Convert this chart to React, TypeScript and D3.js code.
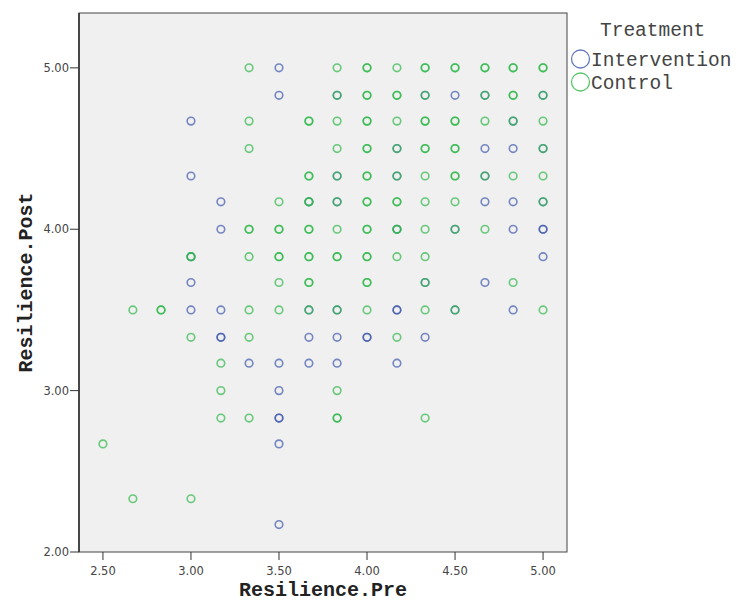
import React, { useEffect, useRef } from 'react';
import * as d3 from 'd3';

// [Resilience.Pre, Resilience.Post] per respondent, repeats are stacked respondents
const interventionPoints: [number, number][] = [
  [3.5, 5], [3.5, 4.83], [3, 4.67], [3, 4.33], [3.17, 4.17], [3.17, 4], [3.67, 4.17],
  [3.83, 4.83], [4.33, 4.83], [4.5, 4.83], [4.67, 4.83], [5, 4.83],
  [4.83, 4.67],
  [4.17, 4.5], [4.67, 4.5], [4.83, 4.5], [5, 4.5],
  [3.83, 4.33], [4.17, 4.33], [4.67, 4.33],
  [3.83, 4.17], [4.67, 4.17], [4.83, 4.17], [5, 4.17],
  [4.17, 4], [4.5, 4], [4.83, 4], [5, 4], [5, 4],
  [3, 3.83], [5, 3.83],
  [3, 3.67], [4.33, 3.67], [4.67, 3.67],
  [3, 3.5], [3.17, 3.5], [3.67, 3.5], [3.83, 3.5], [4.17, 3.5], [4.17, 3.5], [4.5, 3.5], [4.83, 3.5],
  [3.17, 3.33], [3.17, 3.33], [3.67, 3.33], [3.83, 3.33], [4, 3.33], [4, 3.33], [4.33, 3.33],
  [3.33, 3.17], [3.5, 3.17], [3.67, 3.17], [3.83, 3.17], [4.17, 3.17],
  [3.5, 3],
  [3.5, 2.83], [3.5, 2.83],
  [3.5, 2.67], [3.5, 2.17],
];

const controlPoints: [number, number][] = [
  [3.33, 5], [3.83, 5], [4, 5], [4, 5], [4.17, 5], [4.33, 5], [4.33, 5], [4.5, 5], [4.5, 5],
  [4.67, 5], [4.67, 5], [4.83, 5], [4.83, 5], [5, 5], [5, 5],
  [3.83, 4.83], [4, 4.83], [4, 4.83], [4.17, 4.83], [4.17, 4.83], [4.33, 4.83], [4.67, 4.83],
  [4.83, 4.83], [4.83, 4.83], [5, 4.83],
  [3.33, 4.67], [3.67, 4.67], [3.67, 4.67], [3.83, 4.67], [4, 4.67], [4, 4.67], [4.17, 4.67],
  [4.33, 4.67], [4.33, 4.67], [4.5, 4.67], [4.5, 4.67], [4.67, 4.67], [4.83, 4.67], [5, 4.67],
  [3.33, 4.5], [3.83, 4.5], [4, 4.5], [4, 4.5], [4.17, 4.5], [4.33, 4.5], [4.33, 4.5],
  [4.5, 4.5], [4.5, 4.5], [5, 4.5],
  [3.67, 4.33], [3.67, 4.33], [3.83, 4.33], [4, 4.33], [4, 4.33], [4.17, 4.33], [4.33, 4.33],
  [4.5, 4.33], [4.5, 4.33], [4.67, 4.33], [4.83, 4.33], [5, 4.33],
  [3.5, 4.17], [3.67, 4.17], [3.67, 4.17], [3.83, 4.17], [4, 4.17], [4, 4.17], [4.17, 4.17],
  [4.17, 4.17], [4.33, 4.17], [4.5, 4.17], [5, 4.17],
  [3.33, 4], [3.33, 4], [3.5, 4], [3.5, 4], [3.67, 4], [3.67, 4], [3.83, 4], [4, 4], [4, 4],
  [4.17, 4], [4.17, 4], [4.33, 4], [4.5, 4], [4.67, 4],
  [3, 3.83], [3, 3.83], [3.33, 3.83], [3.5, 3.83], [3.5, 3.83], [3.67, 3.83], [3.67, 3.83],
  [3.83, 3.83], [3.83, 3.83], [4, 3.83], [4, 3.83], [4.17, 3.83], [4.33, 3.83],
  [3.5, 3.67], [3.67, 3.67], [3.67, 3.67], [4, 3.67], [4, 3.67], [4.33, 3.67], [4.83, 3.67],
  [2.67, 3.5], [2.83, 3.5], [2.83, 3.5], [3.33, 3.5], [3.5, 3.5], [3.67, 3.5], [3.83, 3.5],
  [4, 3.5], [4.33, 3.5], [4.5, 3.5], [5, 3.5],
  [3, 3.33], [3.33, 3.33], [4.17, 3.33],
  [3.17, 3.17],
  [3.17, 3], [3.83, 3],
  [3.17, 2.83], [3.33, 2.83], [3.83, 2.83], [3.83, 2.83], [4.33, 2.83],
  [2.5, 2.67],
  [2.67, 2.33], [3, 2.33],
];

const xTicks = [2.5, 3, 3.5, 4, 4.5, 5];
const yTicks = [2, 3, 4, 5];
const groups = ['Intervention', 'Control'];

const ScatterChart = () => {
  const svgRef = useRef<SVGSVGElement | null>(null);

  useEffect(() => {
    const svg = d3.select(svgRef.current);
    svg.selectAll('*').remove();

    const left = 79, right = 567, top = 13, bottom = 552;
    const colors = ['#3e58ac', '#2eb848'];
    const mono = '"Liberation Mono", "Courier New", monospace';

    const x = d3.scaleLinear().domain([2.364, 5.136]).range([left, right]);
    const y = d3.scaleLinear().domain([2, 5.34]).range([bottom, top]);

    // plot background
    svg.append('rect')
      .attr('x', left).attr('y', top)
      .attr('width', right - left).attr('height', bottom - top)
      .attr('fill', '#f0f0f0')
      .attr('stroke', '#444')
      .attr('stroke-width', 1);

    svg.append('line')
      .attr('x1', left).attr('x2', left)
      .attr('y1', top).attr('y2', bottom)
      .attr('stroke', '#333')
      .attr('stroke-width', 1.6);

    // x axis ticks
    const xAxis = svg.append('g');
    xTicks.forEach(t => {
      xAxis.append('line')
        .attr('x1', x(t)).attr('x2', x(t))
        .attr('y1', bottom).attr('y2', bottom + 8)
        .attr('stroke', '#333');
      xAxis.append('text')
        .attr('x', x(t)).attr('y', bottom + 23)
        .attr('text-anchor', 'middle')
        .style('font-family', '"DejaVu Sans", sans-serif')
        .style('font-size', '11.5px')
        .style('fill', '#444')
        .text(d3.format('.2f')(t));
    });

    // y axis ticks
    const yAxis = svg.append('g');
    yTicks.forEach(t => {
      yAxis.append('line')
        .attr('x1', left - 9).attr('x2', left)
        .attr('y1', y(t)).attr('y2', y(t))
        .attr('stroke', '#333');
      yAxis.append('text')
        .attr('x', left - 10).attr('y', y(t) + 4)
        .attr('text-anchor', 'end')
        .style('font-family', '"DejaVu Sans", sans-serif')
        .style('font-size', '11.5px')
        .style('fill', '#444')
        .text(d3.format('.2f')(t));
    });

    // points
    [interventionPoints, controlPoints].forEach((pts, i) => {
      svg.append('g').selectAll('circle')
        .data(pts)
        .enter()
        .append('circle')
        .attr('cx', d => x(d[0]))
        .attr('cy', d => y(d[1]))
        .attr('r', 3.8)
        .attr('fill', 'none')
        .attr('stroke', colors[i])
        .attr('stroke-width', 1.6)
        .attr('stroke-opacity', 0.7);
    });

    // axis titles
    svg.append('text')
      .attr('x', (left + right) / 2).attr('y', 596)
      .attr('text-anchor', 'middle')
      .style('font-family', mono)
      .style('font-size', '20px')
      .style('font-weight', 'bold')
      .style('fill', '#222')
      .text('Resilience.Pre');

    svg.append('text')
      .attr('transform', `translate(32,${(top + bottom) / 2}) rotate(-90)`)
      .attr('text-anchor', 'middle')
      .style('font-family', mono)
      .style('font-size', '20px')
      .style('font-weight', 'bold')
      .style('fill', '#222')
      .text('Resilience.Post');

    // legend
    svg.append('text')
      .attr('x', 600).attr('y', 36)
      .style('font-family', mono)
      .style('font-size', '19.5px')
      .style('fill', '#444')
      .text('Treatment');

    groups.forEach((g, i) => {
      svg.append('circle')
        .attr('cx', 580.5).attr('cy', 59 + i * 23)
        .attr('r', 9)
        .attr('fill', 'none')
        .attr('stroke', colors[i])
        .attr('stroke-width', 1.3)
        .attr('stroke-opacity', 0.8);
      svg.append('text')
        .attr('x', 591).attr('y', 65.5 + i * 23)
        .style('font-family', mono)
        .style('font-size', '19.5px')
        .style('fill', '#444')
        .text(g);
    });
  }, []);

  return (
    <svg ref={svgRef} width={741} height={603}
      style={{ position: 'absolute', left: 0, top: 0 }}></svg>
  );
};

export default function App() {
  return <ScatterChart />;
}
